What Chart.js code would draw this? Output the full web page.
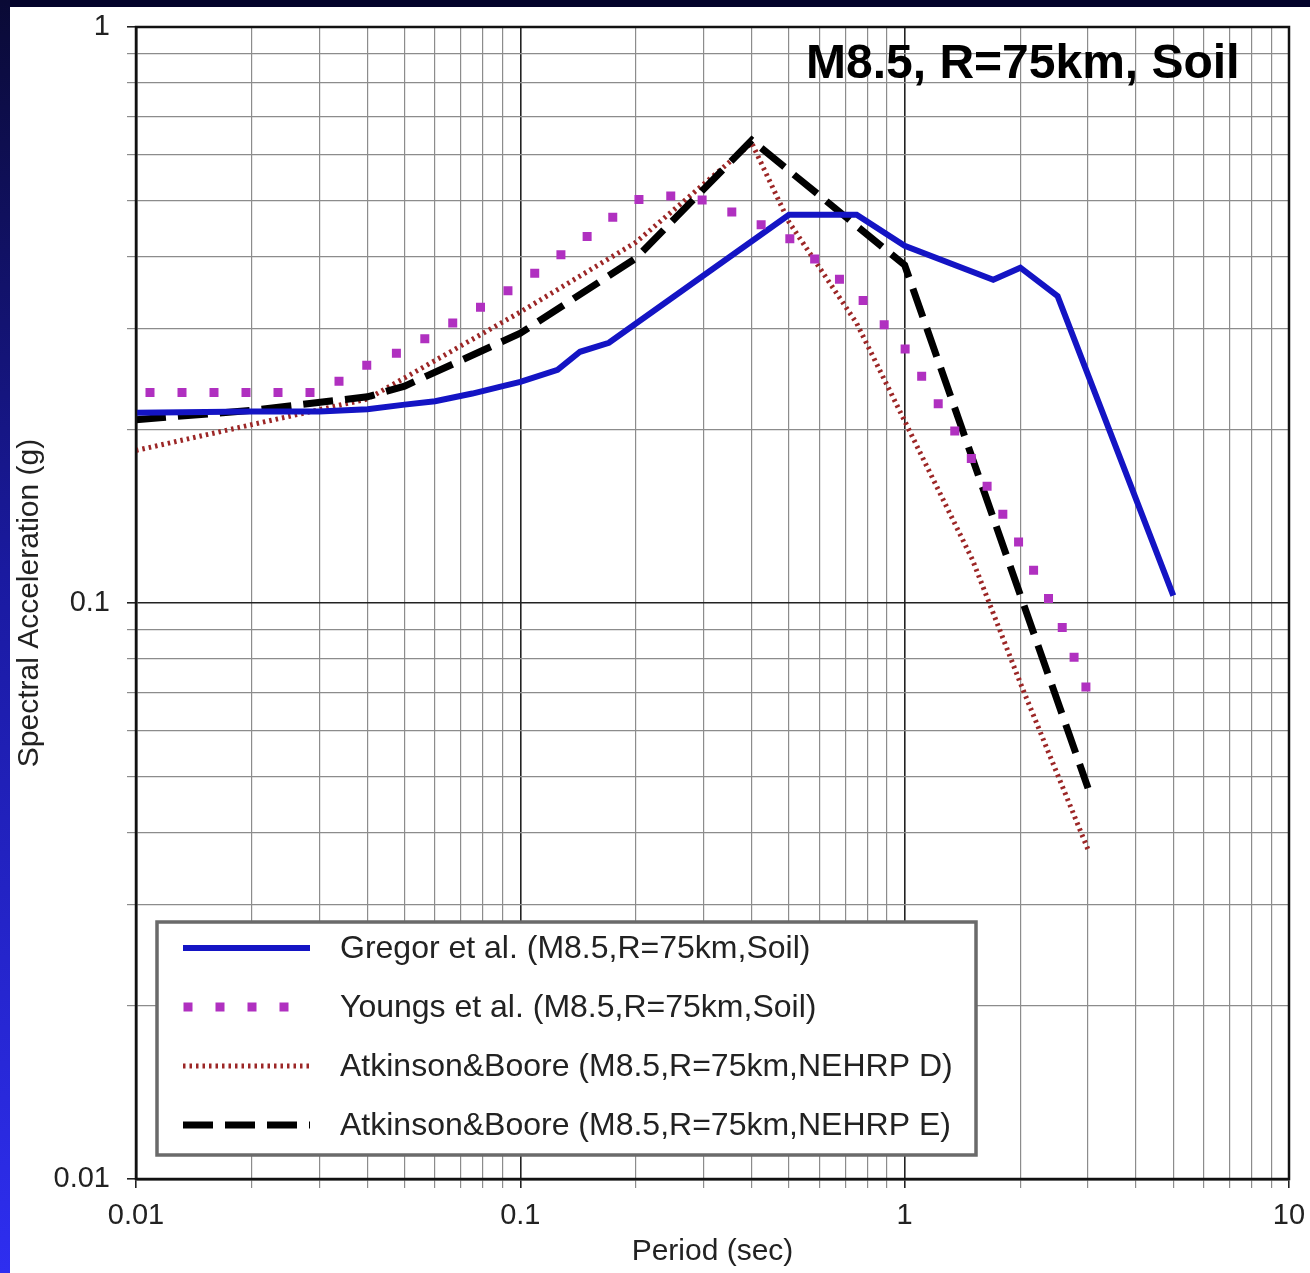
<!DOCTYPE html>
<html>
<head>
<meta charset="utf-8">
<script src="https://cdn.jsdelivr.net/npm/chart.js@4"></script>
<style>
  html, body { margin: 0; padding: 0; background: #fff; overflow: hidden; }
  #topband { position: absolute; left: 0; top: 0; width: 1310px; height: 7px; background: #03032a; }
  #leftband { position: absolute; left: 0; top: 0; width: 10px; height: 1273px;
    background: linear-gradient(to bottom, #0a0a35 0%, #1a1aa0 45%, #2e2ef0 100%); }
  #chart { position: absolute; left: 10px; top: 7px; background: #fff; }
</style>
</head>
<body>
<div id="topband"></div>
<div id="leftband"></div>
<canvas id="chart" width="1300" height="1266"></canvas>
<script>
  // tick labels (decades only are labelled)
  var xTickLabels = ['0.01', '0.1', '1', '10'];
  var yTickLabels = ['0.01', '0.1', '1'];

  // Gregor et al.
  var gregorT  = [0.01, 0.02, 0.03, 0.04, 0.05, 0.06, 0.075, 0.09, 0.1, 0.125, 0.143, 0.17, 0.5, 0.75, 1, 1.7, 2, 2.5, 5];
  var gregorSA = [0.214, 0.215, 0.215, 0.217, 0.221, 0.224, 0.231, 0.238, 0.242, 0.254, 0.273, 0.283, 0.472, 0.472, 0.417, 0.364, 0.382, 0.341, 0.103];

  // Youngs et al.
  var youngsT  = [0.01, 0.03, 0.04, 0.05, 0.075, 0.1, 0.15, 0.2, 0.26, 0.3, 0.4, 0.5, 0.75, 1, 1.5, 2, 2.5, 3];
  var youngsSA = [0.232, 0.232, 0.259, 0.275, 0.320, 0.359, 0.434, 0.501, 0.511, 0.500, 0.462, 0.430, 0.345, 0.277, 0.177, 0.126, 0.095, 0.070];

  // Atkinson & Boore, NEHRP D
  var abDT  = [0.01, 0.02, 0.04, 0.1, 0.2, 0.4, 0.5, 0.75, 1, 1.5, 2, 3];
  var abDSA = [0.184, 0.204, 0.226, 0.320, 0.423, 0.629, 0.4585, 0.306, 0.207, 0.119, 0.0726, 0.0373];

  // Atkinson & Boore, NEHRP E
  var abET  = [0.01, 0.02, 0.04, 0.05, 0.1, 0.2, 0.4, 1, 3];
  var abESA = [0.208, 0.216, 0.228, 0.238, 0.294, 0.397, 0.636, 0.386, 0.0477];

  var FONT = '"Liberation Sans", Arial, Helvetica, sans-serif';

  function pts(t, v) {
    return t.map(function (x, i) { return { x: x, y: v[i] }; });
  }

  function isDecade(v) {
    var l = Math.log10(v);
    return Math.abs(l - Math.round(l)) < 1e-6;
  }

  // 1..9 x each decade, for grid lines
  function logTicks(labels) {
    var dec = labels.map(Number);
    var out = [];
    for (var i = 0; i < dec.length; i++) {
      out.push({ value: dec[i] });
      if (i < dec.length - 1) {
        for (var k = 2; k <= 9; k++) out.push({ value: Number((k * dec[i]).toPrecision(6)) });
      }
    }
    return out;
  }

  function decadeLabel(labels) {
    return function (value) {
      if (!isDecade(value)) return '';
      for (var i = 0; i < labels.length; i++) {
        if (Math.abs(Number(labels[i]) - value) < value * 1e-6) return labels[i];
      }
      return '';
    };
  }

  function gridColor(ctx) {
    return ctx.tick && isDecade(ctx.tick.value) ? '#222' : '#8c8c8c';
  }
  function gridWidth(ctx) {
    return ctx.tick && isDecade(ctx.tick.value) ? 1.6 : 1.2;
  }

  // plot frame, title and boxed legend
  var decorations = {
    id: 'decorations',
    afterDraw: function (chart) {
      var ctx = chart.ctx;
      var a = chart.chartArea;
      ctx.save();
      ctx.strokeStyle = '#111';
      ctx.lineWidth = 2.5;
      ctx.strokeRect(a.left, a.top, a.right - a.left, a.bottom - a.top);

      ctx.fillStyle = '#000';
      ctx.font = 'bold 48px ' + FONT;
      ctx.textAlign = 'left';
      ctx.textBaseline = 'alphabetic';
      ctx.fillText('M8.5, R=75km, Soil', 796, 71);

      // legend box
      ctx.fillStyle = '#fff';
      ctx.fillRect(147, 915, 819, 233);
      ctx.strokeStyle = '#6a6a6a';
      ctx.lineWidth = 3.5;
      ctx.strokeRect(147, 915, 819, 233);

      var rows = [941, 1000, 1059, 1118];
      chart.data.datasets.forEach(function (ds, i) {
        var y = rows[i];
        ctx.save();
        ctx.strokeStyle = ds.borderColor;
        ctx.lineWidth = ds.borderWidth;
        ctx.lineCap = ds.borderCapStyle || 'butt';
        ctx.setLineDash(ds.borderDash || []);
        ctx.beginPath();
        ctx.moveTo(ds.legendStart || 173, y);
        ctx.lineTo(300, y);
        ctx.stroke();
        ctx.restore();
        ctx.fillStyle = '#222';
        ctx.font = '32px ' + FONT;
        ctx.textBaseline = 'middle';
        ctx.fillText(ds.label, 330, y + 1);
      });
      ctx.restore();
    }
  };

  var chart = new Chart(document.getElementById('chart'), {
    type: 'line',
    data: {
      datasets: [{
        label: 'Gregor et al. (M8.5,R=75km,Soil)',
        data: pts(gregorT, gregorSA),
        borderColor: '#1414c4',
        borderWidth: 6,
        order: 1
      }, {
        label: 'Youngs et al. (M8.5,R=75km,Soil)',
        data: pts(youngsT, youngsSA),
        borderColor: '#b030c0',
        borderWidth: 9,
        borderDash: [0, 32],
        borderDashOffset: 18,
        borderCapStyle: 'square',
        legendStart: 178,
        order: 0
      }, {
        label: 'Atkinson&Boore (M8.5,R=75km,NEHRP D)',
        data: pts(abDT, abDSA),
        borderColor: '#9c2626',
        borderWidth: 5,
        borderDash: [2.5, 4],
        order: 3
      }, {
        label: 'Atkinson&Boore (M8.5,R=75km,NEHRP E)',
        data: pts(abET, abESA),
        borderColor: '#000',
        borderWidth: 7,
        borderDash: [30, 12],
        order: 2
      }]
    },
    options: {
      responsive: false,
      animation: false,
      devicePixelRatio: 1,
      layout: { padding: { top: 20, right: 21, left: 0, bottom: 0 } },
      elements: {
        point: { radius: 0 },
        line: { tension: 0, fill: false }
      },
      plugins: {
        legend: { display: false },
        tooltip: { enabled: false }
      },
      scales: {
        x: {
          type: 'logarithmic',
          min: 0.01,
          max: 10,
          afterBuildTicks: function (scale) { scale.ticks = logTicks(xTickLabels); },
          afterFit: function (scale) {
            scale.height = 94;
            scale.paddingLeft = 0;
            scale.paddingRight = 0;
          },
          ticks: {
            autoSkip: false,
            maxRotation: 0,
            minRotation: 0,
            padding: 11,
            color: '#222',
            font: { family: FONT, size: 29 },
            callback: decadeLabel(xTickLabels)
          },
          grid: { color: gridColor, lineWidth: gridWidth, tickLength: 9 },
          border: { display: true, color: '#111', width: 2.5 },
          title: {
            display: true,
            text: 'Period (sec)',
            color: '#222',
            font: { family: FONT, size: 30 },
            padding: { top: 0, bottom: 3 }
          }
        },
        y: {
          type: 'logarithmic',
          min: 0.01,
          max: 1,
          afterBuildTicks: function (scale) { scale.ticks = logTicks(yTickLabels); },
          afterFit: function (scale) {
            scale.width = 126;
            scale.paddingTop = 0;
            scale.paddingBottom = 0;
          },
          ticks: {
            autoSkip: false,
            padding: 17,
            color: '#222',
            font: { family: FONT, size: 29 },
            callback: decadeLabel(yTickLabels)
          },
          grid: { color: gridColor, lineWidth: gridWidth, tickLength: 9 },
          border: { display: true, color: '#111', width: 2.5 },
          title: {
            display: true,
            text: 'Spectral Acceleration (g)',
            color: '#222',
            font: { family: FONT, size: 30 },
            padding: { top: 2, bottom: 0 }
          }
        }
      }
    },
    plugins: [decorations]
  });
</script>
</body>
</html>
